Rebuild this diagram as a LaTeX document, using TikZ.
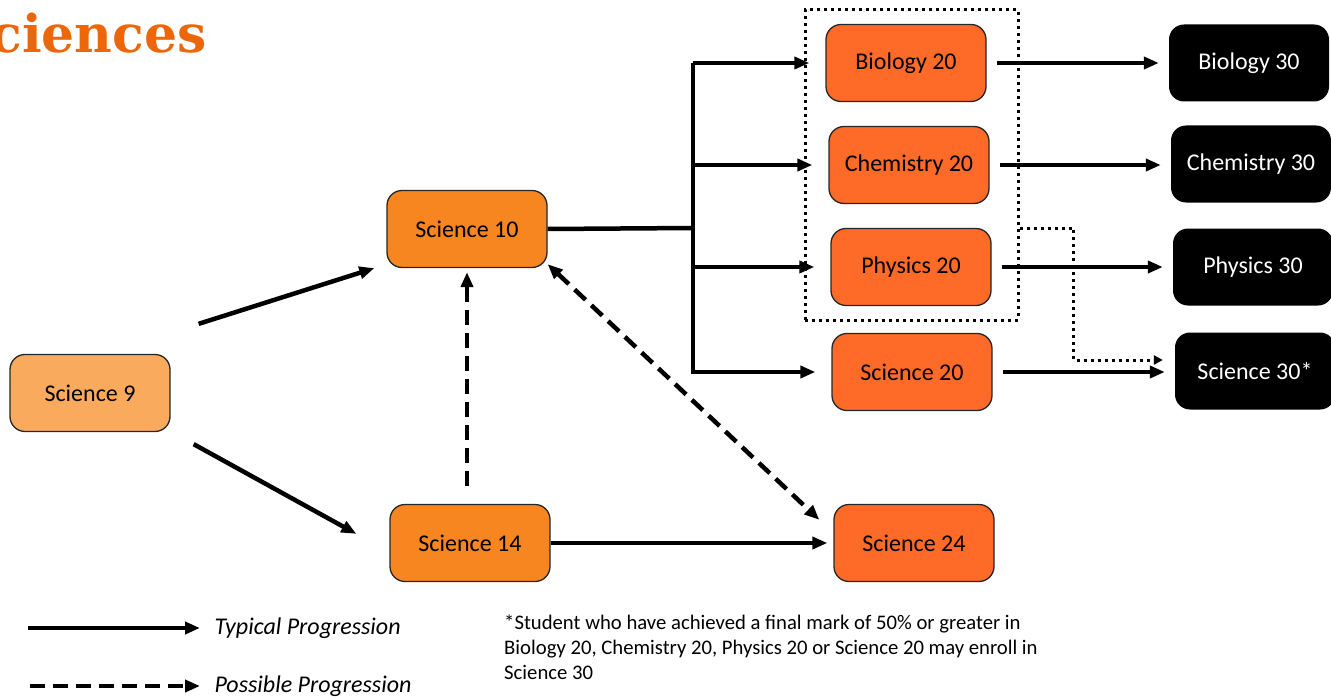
\documentclass[tikz,border=0pt]{standalone}
\usepackage{fontspec}
\setmainfont{Carlito}
\newfontfamily\titlefont{DejaVu Serif}
\usetikzlibrary{arrows.meta,fit}
\definecolor{nine}{RGB}{250,170,92}
\definecolor{ten}{RGB}{247,133,32}
\definecolor{twenty}{RGB}{254,106,40}
\definecolor{titleorange}{RGB}{236,102,10}
\tikzset{
box/.style={draw=black!85,line width=1.3pt,rounded corners=15pt,minimum width=160pt,minimum height=77pt,font=\fontsize{24}{28}\selectfont},
topbox/.style={fill=black,rounded corners=15pt,minimum width=160pt,minimum height=77pt,text=white,font=\fontsize{24}{28}\selectfont},
typ/.style={line width=4.5pt,-{Triangle[length=15pt,width=12pt]}},
posarrow/.style={typ,dash pattern=on 15pt off 8pt},
dots/.style={line width=3pt,dash pattern=on 3pt off 4pt}
}
\begin{document}
\begin{tikzpicture}[x=1pt,y=-1pt]
\useasboundingbox (0,0) rectangle (1331,698);
%title
\node[anchor=base east,inner sep=0,text=titleorange,font=\titlefont\bfseries\fontsize{52}{56}\selectfont] (title) at (207,53) {Sciences};
%boxes
\node[box,fill=nine] (s9) at (90,393) {Science 9};
\node[box,fill=ten] (s10) at (467,229) {Science 10};
\node[box,fill=ten] (s14) at (470,543) {Science 14};
\node[box,fill=twenty] (bio20) at (906,63) {Biology 20};
\node[box,fill=twenty] (chem20) at (909,165) {Chemistry 20};
\node[box,fill=twenty] (phys20) at (911,267) {Physics 20};
\node[box,fill=twenty] (sci20) at (912,372) {Science 20};
\node[box,fill=twenty] (s24) at (914,543) {Science 24};
\node[topbox] (bio30) at (1249,63) {Biology 30};
\node[topbox] (chem30) at (1251,164) {Chemistry 30};
\node[topbox] (phys30) at (1253,267) {Physics 30};
\node[topbox] (sci30) at (1255,371) {Science 30*};
\node[dots,draw,inner sep=0,fit={(805,10) (1018,320)}] (grp) {};
%arrows
\draw[typ] ([shift={(28,-30)}]s9.north east)--([shift={(-12,0)}]s10.south west);
\draw[typ] ([shift={(23,12)}]s9.south east)--([shift={(-33,30)}]s14.north west);
\draw[typ] (s14.east)--([shift={(-6,0)}]s24.west);
\coordinate (br) at (693,228);
\draw[line width=4.5pt] (s10.east)--(br);
\draw[line width=4.5pt] (693,63)--(693,374);
\foreach \t in {bio20,chem20,phys20,sci20}{\draw[typ,shorten >=16pt] (br |- \t.west)--(\t.west);}
\foreach \a/\b in {bio20/bio30,chem20/chem30,phys20/phys30,sci20/sci30}{\draw[typ,shorten <=10pt,shorten >=10pt] (\a.east)--(\b.west |- \a.east);}
\draw[posarrow,shorten <=18pt,shorten >=4pt] (s14.north -| s10.south)--(s10.south);
\draw[posarrow,{Triangle[length=15pt,width=12pt]}-{Triangle[length=15pt,width=12pt]}] ([shift={(0,-4)}]s10.south east)--([shift={(-14,16)}]s24.north west);
\draw[dots,-{Triangle[length=9pt,width=9pt]}] ([shift={(0,63)}]grp.east)--++(54,0)|-([shift={(-12,-11)}]sci30.west);
%legend
\node[anchor=west,font=\itshape\fontsize{24}{28}\selectfont] (typtxt) at (211,628) {Typical Progression};
\node[anchor=west,font=\itshape\fontsize{24}{28}\selectfont] (postxt) at (211,686) {Possible Progression};
\coordinate (lg1) at (28,628);
\coordinate (lg2) at (30,686);
\draw[typ,shorten >=11pt] (lg1)--(typtxt.west);
\draw[posarrow,shorten >=11pt] (lg2)--(postxt.west);
\node[anchor=north west,align=left,inner sep=0,font=\fontsize{20.7}{25}\selectfont] (note) at (504,615) {*Student who have achieved a final mark of 50\% or greater in\\Biology 20, Chemistry 20, Physics 20 or Science 20 may enroll in\\Science 30};
\end{tikzpicture}
\end{document}
